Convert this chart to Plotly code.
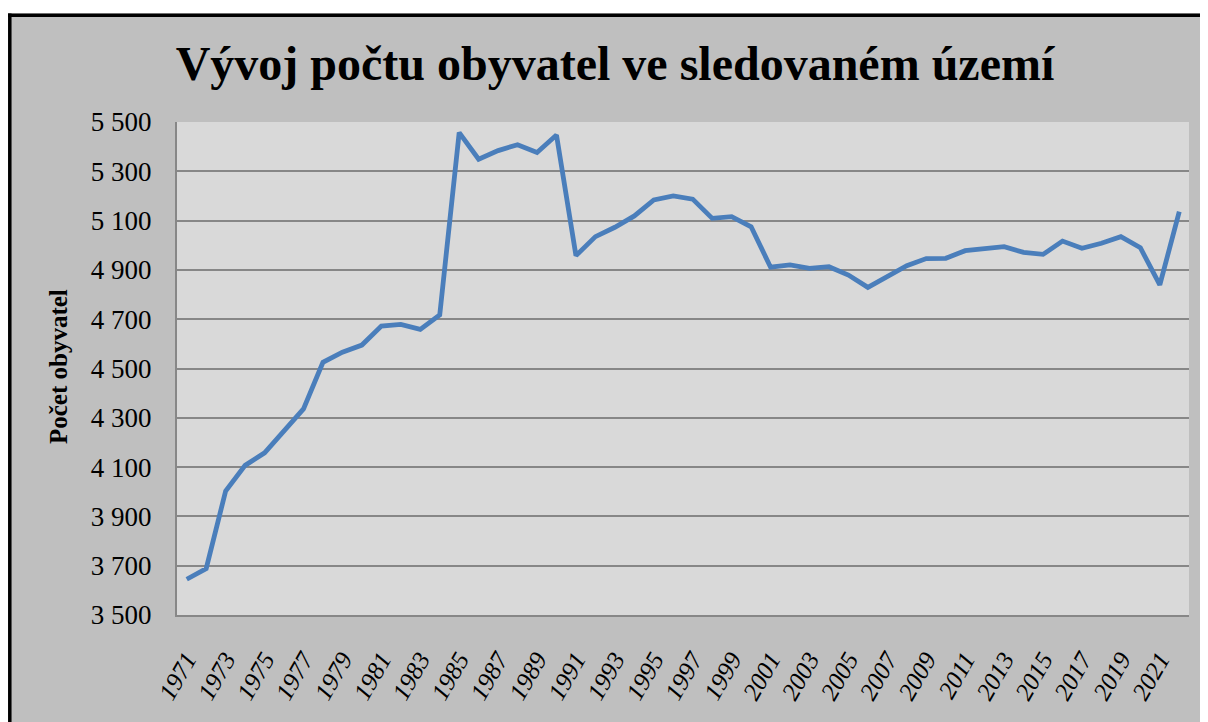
import plotly.graph_objects as go

# ---- data ----
years = list(range(1971, 2023))
population = [
    3645, 3688, 4003, 4107, 4158, 4247, 4336, 4525, 4566, 4595,
    4672, 4679, 4659, 4717, 5457, 5349, 5384, 5408, 5376, 5447,
    4958, 5035, 5073, 5119, 5184, 5200, 5187, 5109, 5116, 5075,
    4911, 4920, 4906, 4913, 4879, 4829, 4875, 4917, 4946, 4947,
    4978, 4985, 4994, 4971, 4963, 5017, 4988, 5008, 5035, 4990,
    4839, 5136,
]
tick_years = years[::2]
tick_labels = [str(y) for y in tick_years]

title_text = "Vývoj počtu obyvatel ve sledovaném území"
y_title = "Počet obyvatel"

# ---- layout geometry (page pixels; the page body adds an 8px offset) ----
OFF = 8
W_FIG, H_FIG = 1208, 722
L, R, T, B = 177, 1189, 122, 615        # plot area in page pixels
PW, PH = R - L, B - T


def px(x):
    return (x - L) / PW


def py(y):
    return (B - y) / PH


SERIF = "Liberation Serif"
GRID = "#878787"

fig = go.Figure()
fig.add_trace(go.Scatter(
    x=years, y=population, mode="lines",
    line=dict(color="#4A7EBB", width=4.8),
    hoverinfo="x+y", showlegend=False,
))

fig.update_layout(
    width=W_FIG, height=H_FIG,
    margin=dict(l=L - OFF, r=W_FIG - (R - OFF), t=T - OFF,
                b=H_FIG - (B - OFF), autoexpand=False),
    paper_bgcolor="#BFBFBF",
    plot_bgcolor="#D9D9D9",
    separators=", ",
    font=dict(family=SERIF, color="black"),
    title=dict(
        text=title_text,
        font=dict(family=SERIF, size=48, weight=700, color="black"),
        x=(615 - OFF) / W_FIG, xref="container", xanchor="center",
        y=1 - (63 - OFF) / H_FIG, yref="container", yanchor="middle",
    ),
    xaxis=dict(
        range=[1970.5, 2022.5],
        tickmode="array", tickvals=tick_years, ticktext=tick_labels,
        tickangle=-60,
        tickfont=dict(family=SERIF, size=25, style="italic", color="black"),
        showgrid=False, zeroline=False,
        showline=True, linecolor=GRID, linewidth=2,
        ticks="outside", ticklen=18, tickcolor="rgba(0,0,0,0)",
    ),
    yaxis=dict(
        range=[3500, 5500], dtick=200, tick0=3500,
        tickformat=",d",
        tickfont=dict(family=SERIF, size=27, color="black"),
        showgrid=True, gridcolor=GRID, gridwidth=2,
        zeroline=False,
        showline=True, linecolor=GRID, linewidth=2,
        ticks="outside", ticklen=18, tickcolor="rgba(0,0,0,0)",
    ),
    annotations=[dict(
        text=y_title, textangle=-90,
        font=dict(family=SERIF, size=25, weight=700, color="black"),
        xref="paper", yref="paper",
        x=px(58), y=py(367), xanchor="center", yanchor="middle",
        showarrow=False,
    )],
    shapes=[
        # white strip above the frame
        dict(type="rect", xref="paper", yref="paper",
             x0=px(0), x1=px(W_FIG + 2 * OFF), y0=py(13.5), y1=py(0),
             fillcolor="white", line=dict(width=0), layer="below"),
        # black frame lines
        dict(type="line", xref="paper", yref="paper",
             x0=px(9.8), x1=px(9.8), y0=py(13.5), y1=py(H_FIG + 40),
             line=dict(color="black", width=3.5)),
        dict(type="line", xref="paper", yref="paper",
             x0=px(8), x1=px(W_FIG + 40), y0=py(15.2), y1=py(15.2),
             line=dict(color="black", width=3.5)),
    ],
)

fig.write_html("out.html")
